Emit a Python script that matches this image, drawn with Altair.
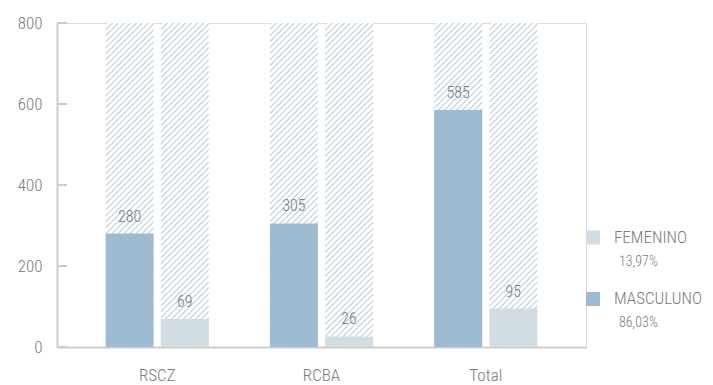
import altair as alt
import pandas as pd

categories = ["RSCZ", "RCBA", "Total"]
masculino = [280, 305, 585]
femenino = [69, 26, 95]
series = ["MASCULUNO", "FEMENINO"]
colors = ["#9dbbd0", "#d1dde3"]
legend_labels = ["FEMENINO", "MASCULUNO"]
legend_pct = ["13,97%", "86,03%"]
y_ticks = [0, 200, 400, 600, 800]
y_max = 800

FONT = "Roboto Condensed, Liberation Sans Narrow, Roboto, sans-serif"
FW = 300
GRAY = "#7a7a7a"

rows = []
for i, c in enumerate(categories):
    rows.append({"cat": c, "sexo": series[0], "value": masculino[i], "full": y_max})
    rows.append({"cat": c, "sexo": series[1], "value": femenino[i], "full": y_max})
df = pd.DataFrame(rows)

# diagonal hatch via gradient stops (styling only)
stops = []
n = 62
for k in range(n):
    a = k / n
    b = (k + 0.33) / n
    e = (k + 1) / n
    stops += [
        alt.GradientStop(color="#cbdae4", offset=a),
        alt.GradientStop(color="#cbdae4", offset=b),
        alt.GradientStop(color="#ffffff", offset=b),
        alt.GradientStop(color="#ffffff", offset=e),
    ]
hatch = alt.Gradient(gradient="linear", stops=stops, x1=0, y1=0, x2=0.1665, y2=1.1236)

x_enc = alt.X("cat:N", sort=categories, title=None,
              scale=alt.Scale(paddingInner=0.372, paddingOuter=0.296),
              axis=alt.Axis(labelAngle=0, ticks=False, domainColor="#cccccc", domainWidth=2,
                            labelPadding=20, labelFont=FONT, labelFontWeight=FW,
                            labelFontSize=17, labelColor=GRAY))
xo_enc = alt.XOffset("sexo:N", sort=series, scale=alt.Scale(paddingInner=0.13, paddingOuter=0))
y_scale = alt.Scale(domain=[0, y_max])

bg = alt.Chart(df).mark_bar(fill=hatch).encode(
    x=x_enc, xOffset=xo_enc,
    y=alt.Y("full:Q", scale=y_scale, title=None,
            axis=alt.Axis(values=y_ticks, ticks=False, tickSize=0, grid=False, domainColor="#cccccc",
                          domainWidth=2, labelPadding=15, labelFont=FONT, labelFontWeight=FW,
                          labelFontSize=17, labelColor=GRAY)),
)

bars = alt.Chart(df).mark_bar().encode(
    x=alt.X("cat:N", sort=categories), xOffset=xo_enc,
    y=alt.Y("value:Q", scale=y_scale),
    color=alt.Color("sexo:N", scale=alt.Scale(domain=series, range=colors), legend=None),
)

labels = alt.Chart(df).mark_text(baseline="bottom", dy=-9, font=FONT, fontWeight=FW,
                                 fontSize=16, color=GRAY).encode(
    x=alt.X("cat:N", sort=categories), xOffset=xo_enc,
    y=alt.Y("value:Q", scale=y_scale),
    text="value:Q",
)

tick_df = pd.DataFrame({"v": y_ticks})
ticks = alt.Chart(tick_df).mark_rule(color="#cccccc", strokeWidth=2).encode(
    y=alt.Y("v:Q", scale=y_scale), x=alt.value(0), x2=alt.value(10)
)

leg_df = pd.DataFrame({
    "label": legend_labels, "pct": legend_pct, "sexo": ["FEMENINO", "MASCULUNO"],
    "ys": [214.5, 276], "yp": [239, 300],
})
leg_sq = alt.Chart(leg_df).mark_square(size=196, opacity=1).encode(
    x=alt.value(536), y=alt.Y("ys:Q", scale=None),
    color=alt.Color("sexo:N", scale=alt.Scale(domain=series, range=colors), legend=None),
)
leg_txt = alt.Chart(leg_df).mark_text(align="left", baseline="middle", font=FONT, fontWeight=FW,
                                      fontSize=17, color=GRAY).encode(
    x=alt.value(557), y=alt.Y("ys:Q", scale=None), text="label:N")
leg_pct = alt.Chart(leg_df).mark_text(align="left", baseline="middle", font=FONT, fontWeight=FW,
                                      fontSize=14, color=GRAY).encode(
    x=alt.value(562), y=alt.Y("yp:Q", scale=None), text="pct:N")

chart = alt.layer(bg, bars, labels, ticks, leg_sq, leg_txt, leg_pct).resolve_scale(
    color="independent"
).properties(
    width=529, height=324,
    autosize=alt.AutoSizeParams(type="none"),
    padding={"left": 49, "top": 15, "right": 119, "bottom": 40},
).configure_view(stroke=None).configure(background="white")

chart.save("out.html", embed_options={"renderer": "svg", "actions": False})
